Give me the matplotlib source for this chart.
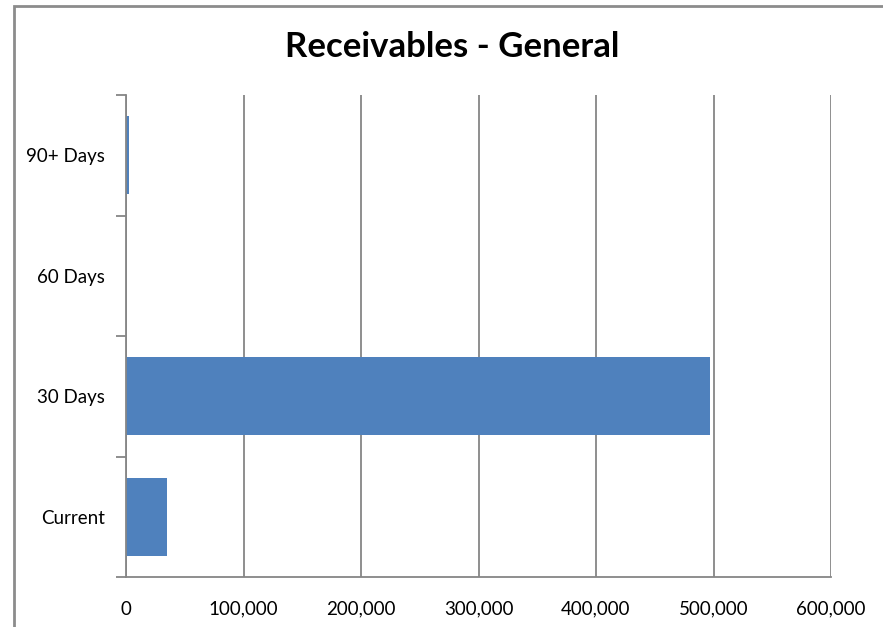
import matplotlib
matplotlib.use("Agg")
import matplotlib.pyplot as plt
from matplotlib.patches import Rectangle
from matplotlib.ticker import FuncFormatter, FixedLocator

categories = ["Current", "30 Days", "60 Days", "90+ Days"]
values = [35200, 497400, 0, 2800]
xticks = [0, 100000, 200000, 300000, 400000, 500000, 600000]
title = "Receivables - General"

plt.rcParams['font.family'] = ['Lato', 'DejaVu Sans']

W, H = 883, 627
fig = plt.figure(figsize=(W / 100, H / 100), dpi=100)
fig.patch.set_facecolor("white")

# outer chart frame
fig.patches.append(Rectangle((14 / W, -0.1), 1.2, 1 - 6 / H + 0.1, transform=fig.transFigure,
                             fill=False, edgecolor="#8c8c8c", linewidth=2, zorder=0))

left, right, top, bottom = 126, 831, 95, 577
ax = fig.add_axes([left / W, 1 - bottom / H, (right - left) / W, (bottom - top) / H])

y = list(range(len(categories)))
ax.barh(y, values, height=1 / 1.55, color="#4F81BD", zorder=3)
ax.set_ylim(-0.5, len(categories) - 0.5)
ax.set_xlim(0, 600000)

ax.set_yticks(y)
ax.set_yticklabels(categories, fontsize=13.5)
ax.yaxis.set_minor_locator(FixedLocator([i - 0.5 for i in range(len(categories) + 1)]))
ax.tick_params(axis="y", which="major", length=0, pad=15)
ax.tick_params(axis="y", which="minor", length=7, width=1.3, color="#868686", direction="out")

ax.set_xticks(xticks)
ax.xaxis.set_major_formatter(FuncFormatter(lambda v, p: f"{int(v):,}"))
ax.tick_params(axis="x", length=0, pad=17, labelsize=13.5)

ax.grid(axis="x", color="#868686", linewidth=1.3, zorder=1)
for s in ["top", "right"]:
    ax.spines[s].set_visible(False)
for s in ["left", "bottom"]:
    ax.spines[s].set_color("#868686")
    ax.spines[s].set_linewidth(1.3)
    ax.spines[s].set_zorder(4)

fig.text(452 / W, 1 - 47 / H, title, ha="center", va="center", fontsize=25, fontweight="bold")

fig.savefig("out.png", dpi=100)
